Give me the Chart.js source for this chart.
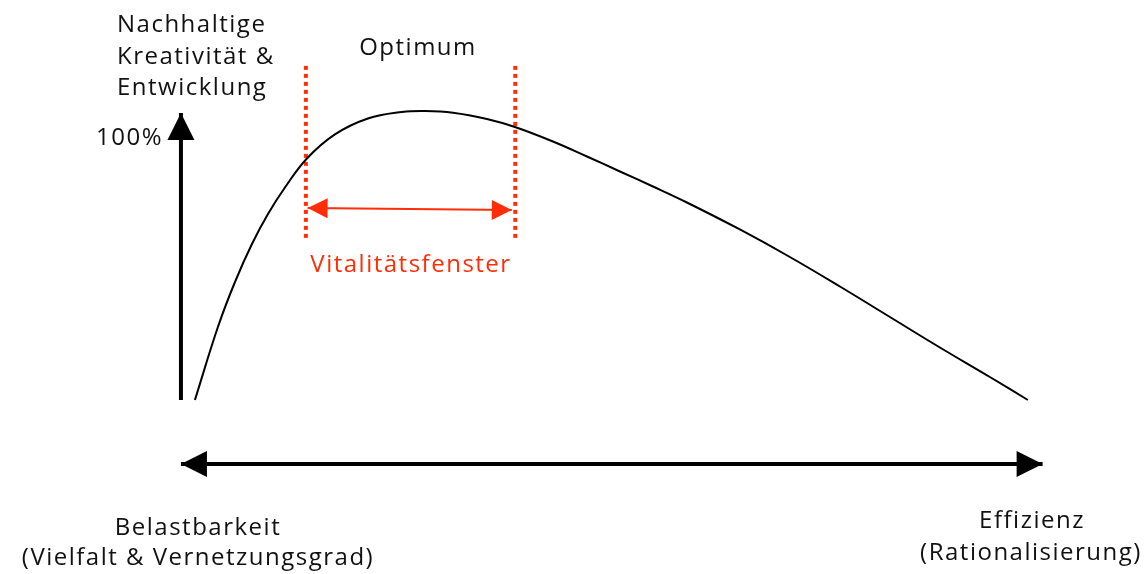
<!DOCTYPE html>
<html><head><meta charset="utf-8">
<script src="https://cdn.jsdelivr.net/npm/chart.js@4/dist/chart.umd.min.js"></script>
<style>html,body{margin:0;padding:0;background:#fff;}#wrap{width:1146px;height:574px;}</style>
</head><body><div id="wrap"><canvas id="c" width="1146" height="574"></canvas></div>
<script>
// Curve: x = position between Belastbarkeit (0) and Effizienz (100), y = % creativity
const curveX = [1.62, 4.29, 6.27, 8.24, 10.10, 12.07, 14.62, 17.87, 21.70, 25.65, 28.32, 31.57, 35.51, 38.76, 43.17, 47.12, 50.95, 54.78, 58.72, 64.87, 70.67, 76.48, 82.28, 88.08, 93.88, 98.29];
const curveY = [0, 25.26, 40.83, 53.98, 64.36, 73.53, 83.56, 91.9, 97.4, 99.65, 100, 99.41, 97.23, 94.46, 89.45, 84.26, 79.07, 73.88, 68.34, 59.0, 49.48, 39.27, 28.72, 18.17, 7.96, 0];
// Axes arrows
const yAxisX = [0, 0];
const yAxisY = [0, 99.3];
const xAxisX = [0, 100];
const xAxisY = [-22.1, -22.1];
// Vitality window
const windowLeftX = [14.5, 14.5];
const windowRightX = [38.8, 38.8];
const windowLineY = [56.1, 115.9];
const windowArrowX = [14.7, 38.4];
const windowArrowY = [66.4, 65.7];
// Text
const yTitle = ['Nachhaltige', 'Kreativität &', 'Entwicklung'];
const yTickLabel = '100%';
const optimumLabel = 'Optimum';
const windowLabel = 'Vitalitätsfenster';
const xLeftLabel = ['Belastbarkeit', '(Vielfalt & Vernetzungsgrad)'];
const xRightLabel = ['Effizienz', '(Rationalisierung)'];

const RED = '#ff2d08';
const FONT = '24px "Open Sans"';

const pts = (xs, ys) => xs.map((x, i) => ({x, y: ys[i]}));

const arrowPlugin = {
  id: 'arrows',
  afterDatasetsDraw(chart) {
    const ctx = chart.ctx;
    chart.data.datasets.forEach((ds, i) => {
      if (!ds.arrow) return;
      const els = chart.getDatasetMeta(i).data;
      const head = (tip, from) => {
        const dx = tip.x - from.x, dy = tip.y - from.y;
        const L = Math.hypot(dx, dy); const ux = dx / L, uy = dy / L;
        const bx = tip.x - ux * ds.arrow.len, by = tip.y - uy * ds.arrow.len;
        ctx.beginPath();
        ctx.moveTo(tip.x, tip.y);
        ctx.lineTo(bx - uy * ds.arrow.half, by + ux * ds.arrow.half);
        ctx.lineTo(bx + uy * ds.arrow.half, by - ux * ds.arrow.half);
        ctx.closePath();
        ctx.fillStyle = ds.borderColor;
        ctx.fill();
      };
      ctx.save();
      if (ds.arrow.end) head(els[els.length - 1], els[els.length - 2]);
      if (ds.arrow.start) head(els[0], els[1]);
      ctx.restore();
    });
  }
};

const textPlugin = {
  id: 'texts',
  afterDraw(chart) {
    const ctx = chart.ctx;
    ctx.save();
    ctx.font = FONT;
    if ('letterSpacing' in ctx) ctx.letterSpacing = '1.5px';
    ctx.textBaseline = 'alphabetic';
    ctx.fillStyle = '#111';
    ctx.textAlign = 'left';
    yTitle.forEach((t, i) => ctx.fillText(t, 117, 32 + i * 31.5));
    ctx.textAlign = 'right';
    ctx.fillText(yTickLabel, 163, 145);
    ctx.textAlign = 'center';
    ctx.fillText(optimumLabel, 418, 55);
    ctx.fillText(xLeftLabel[0], 198, 535);
    ctx.fillText(xLeftLabel[1], 198, 565);
    ctx.fillText(xRightLabel[0], 1032, 528);
    ctx.fillText(xRightLabel[1], 1031, 560);
    ctx.fillStyle = RED;
    ctx.fillText(windowLabel, 411, 272);
    ctx.restore();
  }
};

new Chart(document.getElementById('c'), {
  type: 'scatter',
  data: {
    datasets: [
      {data: pts(curveX, curveY), showLine: true, borderColor: '#000', borderWidth: 2, tension: 0.4, pointRadius: 0},
      {data: pts(yAxisX, yAxisY), showLine: true, borderColor: '#000', borderWidth: 4, pointRadius: 0, arrow: {end: true, len: 27, half: 13.5}},
      {data: pts(xAxisX, xAxisY), showLine: true, borderColor: '#000', borderWidth: 4, pointRadius: 0, arrow: {start: true, end: true, len: 26, half: 13}},
      {data: pts(windowLeftX, windowLineY), showLine: true, borderColor: RED, borderWidth: 4, borderDash: [4, 4], pointRadius: 0},
      {data: pts(windowRightX, windowLineY), showLine: true, borderColor: RED, borderWidth: 4, borderDash: [4, 4], pointRadius: 0},
      {data: pts(windowArrowX, windowArrowY), showLine: true, borderColor: RED, borderWidth: 2, pointRadius: 0, arrow: {start: true, end: true, len: 20, half: 10}}
    ]
  },
  options: {
    responsive: false,
    animation: false,
    layout: {padding: 0},
    scales: {
      x: {type: 'linear', min: -21, max: 112, display: false},
      y: {type: 'linear', min: -60.2, max: 138.4, display: false}
    },
    plugins: {legend: {display: false}, tooltip: {enabled: false}}
  },
  plugins: [arrowPlugin, textPlugin]
});
</script></body></html>
